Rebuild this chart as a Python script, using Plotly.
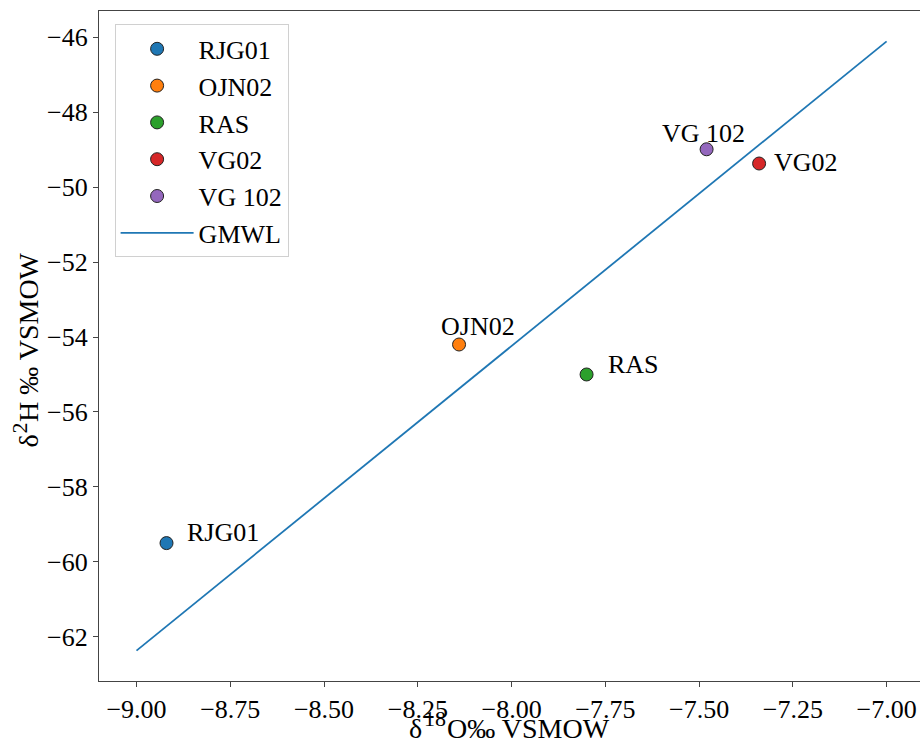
import plotly.graph_objects as go

samples = ["RJG01", "OJN02", "RAS", "VG02", "VG 102"]
d18O = [-8.92, -8.14, -7.80, -7.34, -7.48]
d2H = [-59.5, -54.2, -55.0, -49.37, -48.99]
colors = ["#1f77b4", "#ff7f0e", "#2ca02c", "#d62728", "#9467bd"]

gmwl_x = [-9.0, -7.0]
gmwl_slope = 8.13
gmwl_intercept = 10.8
gmwl_y = [gmwl_slope * v + gmwl_intercept for v in gmwl_x]

x_ticks = [-9.0, -8.75, -8.5, -8.25, -8.0, -7.75, -7.5, -7.25, -7.0]
# axis title pieces: (base, superscript, rest)
x_title = ("δ", "18", "O‰ VSMOW")
y_title = ("δ", "2", "H ‰ VSMOW")

# label offsets (px): xshift, yshift, anchor
label_pos = {
    "RJG01": (18, 11, "left"),
    "OJN02": (19, 18, "center"),
    "RAS": (19, 10, "left"),
    "VG02": (13, 1, "left"),
    "VG 102": (-3, 16, "center"),
}

FONT = "Liberation Serif, Times New Roman, serif"
W, H = 920, 742
ML, MR, MT, MB = 99, 0, 11, 61


def px(xp):
    return (xp - ML) / (W - ML - MR)


def py(yp):
    return (H - MB - yp) / (H - MT - MB)


fig = go.Figure()
for i, s in enumerate(samples):
    fig.add_trace(go.Scatter(
        x=[d18O[i]], y=[d2H[i]], mode="markers", name=s,
        legendgroup=s,
        marker=dict(size=13, color=colors[i], line=dict(color="#222222", width=1)),
    ))
fig.add_trace(go.Scatter(
    x=gmwl_x, y=gmwl_y, mode="lines", name="GMWL", legendgroup="GMWL",
    line=dict(color="#1f77b4", width=1.8),
))

for i, s in enumerate(samples):
    xs, ys, anc = label_pos[s]
    fig.add_annotation(x=d18O[i], y=d2H[i], xref="x", yref="y", text=s,
                       showarrow=False, xanchor=anc, yanchor="middle",
                       xshift=xs, yshift=ys,
                       font=dict(family=FONT, size=26, color="black"))

BIG, SMALL = 28, 22


def ann(text, xp, yp, xa, ya, size, angle=0):
    fig.add_annotation(x=px(xp), y=py(yp), xref="paper", yref="paper", text=text,
                       showarrow=False, xanchor=xa, yanchor=ya, textangle=angle,
                       font=dict(family=FONT, size=size, color="black"))


# x axis title, built from pieces so the superscript keeps its size
ann(x_title[0], 407, 728, "left", "middle", BIG)
ann(x_title[1], 421.5, 718, "left", "middle", SMALL)
ann(x_title[2], 444.5, 728, "left", "middle", BIG)

# y axis title (rotated)
ann(y_title[0], 28, 450, "center", "bottom", BIG, -90)
ann(y_title[1], 18.5, 435.5, "center", "bottom", SMALL, -90)
ann(y_title[2], 28, 424, "center", "bottom", BIG, -90)

fig.update_layout(
    width=W, height=H,
    margin=dict(l=ML, r=MR, t=MT, b=MB),
    paper_bgcolor="white", plot_bgcolor="white",
    font=dict(family=FONT, size=26, color="black"),
    showlegend=True,
    legend=dict(x=0.019, y=0.98, xanchor="left", yanchor="top",
                bgcolor="white", bordercolor="#d0d0d0", borderwidth=1,
                font=dict(family=FONT, size=26, color="black"),
                itemwidth=73, tracegroupgap=7, traceorder="normal"),
    xaxis=dict(range=[-9.1, -6.911], tickvals=x_ticks,
               tickformat=".2f", showgrid=False, zeroline=False,
               showline=True, linecolor="#444444", linewidth=1.3, mirror=True,
               ticks="outside", ticklen=5, tickcolor="#444444",
               tickfont=dict(family=FONT, size=26, color="black")),
    yaxis=dict(range=[-63.18, -45.30], dtick=2, tick0=-46, showgrid=False, zeroline=False,
               showline=True, linecolor="#444444", linewidth=1.3, mirror=False,
               ticks="outside", ticklen=5, tickcolor="#444444",
               tickfont=dict(family=FONT, size=26, color="black")),
)

fig.write_html("out.html")
